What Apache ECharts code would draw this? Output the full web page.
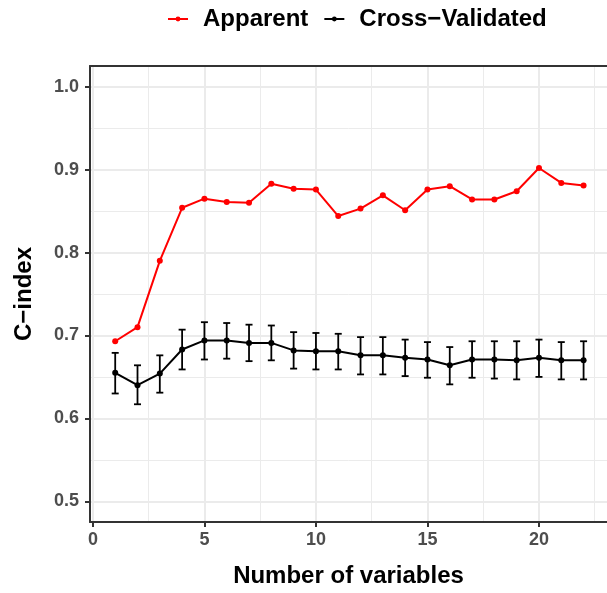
<!DOCTYPE html>
<html>
<head>
<meta charset="utf-8">
<script src="https://cdn.jsdelivr.net/npm/echarts@6/dist/echarts.min.js"></script>
<style>
  html, body { margin: 0; padding: 0; background: #fff; }
  #chart { width: 607px; height: 593px; }
</style>
</head>
<body>
<div id="chart"></div>
<script>
// number of variables in the model
var nVars = [1, 2, 3, 4, 5, 6, 7, 8, 9, 10, 11, 12, 13, 14, 15, 16, 17, 18, 19, 20, 21, 22];

// apparent C-index
var apparent = [0.693, 0.710, 0.790, 0.854, 0.865, 0.861, 0.860, 0.883, 0.877, 0.876, 0.844,
                0.853, 0.869, 0.851, 0.876, 0.880, 0.864, 0.864, 0.874, 0.902, 0.884, 0.881];

// cross-validated C-index with error bars
var cvMean  = [0.655, 0.640, 0.654, 0.683, 0.694, 0.694, 0.691, 0.691, 0.682, 0.681, 0.681,
               0.676, 0.676, 0.673, 0.671, 0.664, 0.671, 0.671, 0.670, 0.673, 0.670, 0.670];
var cvLower = [0.630, 0.617, 0.631, 0.659, 0.671, 0.672, 0.669, 0.670, 0.660, 0.659, 0.659,
               0.653, 0.653, 0.651, 0.649, 0.641, 0.649, 0.648, 0.647, 0.650, 0.647, 0.647];
var cvUpper = [0.679, 0.664, 0.676, 0.707, 0.716, 0.715, 0.713, 0.712, 0.704, 0.703, 0.702,
               0.698, 0.698, 0.695, 0.692, 0.686, 0.693, 0.693, 0.693, 0.695, 0.692, 0.693];

// tick labels and grid lines
var xTicks = [0, 5, 10, 15, 20];
var yTicks = [0.5, 0.6, 0.7, 0.8, 0.9, 1.0];
var xMinor = [2.5, 7.5, 12.5, 17.5, 22.5];
var yMinor = [0.55, 0.65, 0.75, 0.85, 0.95];

var font = 'Liberation Sans';
var gridColor = '#EBEBEB';
var axisColor = '#333333';

var myChart = echarts.init(document.getElementById('chart'));

var appData = nVars.map(function (x, i) { return [x, apparent[i]]; });
var cvData = nVars.map(function (x, i) { return [x, cvMean[i]]; });
var errData = nVars.map(function (x, i) { return [x, cvLower[i], cvUpper[i]]; });

function vLines(vals, w) {
  return vals.map(function (v) { return { xAxis: v, lineStyle: { width: w } }; });
}
function hLines(vals, w) {
  return vals.map(function (v) { return { yAxis: v, lineStyle: { width: w } }; });
}

var option = {
  animation: false,
  backgroundColor: '#fff',
  textStyle: { fontFamily: font },
  legend: {
    top: 2,
    left: 162,
    itemWidth: 20,
    itemHeight: 6,
    itemGap: 15,
    data: ['Apparent', 'Cross\u2212Validated'],
    textStyle: { fontFamily: font, fontSize: 24, fontWeight: 'bold', color: '#000', padding: [0, 0, 0, 10] }
  },
  grid: { left: 90, right: 0, top: 66, bottom: 71, containLabel: false },
  xAxis: [{
    type: 'value',
    min: -0.13,
    max: 23.05,
    zlevel: 1,
    name: 'Number of variables',
    nameLocation: 'middle',
    nameGap: 42,
    nameTextStyle: { fontFamily: font, fontSize: 24, fontWeight: 'bold', color: '#000' },
    axisLine: { show: true, onZero: false, lineStyle: { color: axisColor, width: 2 } },
    axisTick: { show: true, length: 5, customValues: xTicks, lineStyle: { color: axisColor, width: 2 } },
    axisLabel: { customValues: xTicks, margin: 9, fontFamily: font, fontSize: 18, fontWeight: 'bold', color: '#4D4D4D' },
    splitLine: { show: false }
  }, {
    type: 'value',
    position: 'top',
    min: -0.13,
    max: 23.05,
    zlevel: 1,
    axisLine: { show: true, onZero: false, lineStyle: { color: axisColor, width: 2 } },
    axisTick: { show: false },
    axisLabel: { show: false },
    splitLine: { show: false }
  }],
  yAxis: {
    type: 'value',
    min: 0.475,
    max: 1.025,
    zlevel: 1,
    name: 'C\u2212index',
    nameLocation: 'middle',
    nameGap: 54,
    nameRotate: 90,
    nameTextStyle: { fontFamily: font, fontSize: 24, fontWeight: 'bold', color: '#000' },
    axisLine: { show: true, onZero: false, lineStyle: { color: axisColor, width: 2 } },
    axisTick: { show: true, length: 5, customValues: yTicks, lineStyle: { color: axisColor, width: 2 } },
    axisLabel: {
      customValues: yTicks, margin: 11, fontFamily: font, fontSize: 18, fontWeight: 'bold', color: '#4D4D4D',
      formatter: function (v) { return v.toFixed(1); }
    },
    splitLine: { show: false }
  },
  series: [
    {
      // grid lines, on the bottom layer
      type: 'line',
      data: [],
      zlevel: 0,
      silent: true,
      markLine: {
        silent: true,
        symbol: ['none', 'none'],
        label: { show: false },
        lineStyle: { color: gridColor, type: 'solid' },
        data: vLines(xMinor, 1).concat(hLines(yMinor, 1), vLines(xTicks, 2), hLines(yTicks, 2))
      }
    },
    {
      name: 'Apparent',
      type: 'line',
      data: appData,
      zlevel: 1,
      color: '#FF0000',
      symbol: 'circle',
      symbolSize: 6,
      lineStyle: { width: 2, color: '#FF0000' },
      itemStyle: { color: '#FF0000' }
    },
    {
      name: 'Cross\u2212Validated',
      type: 'line',
      data: cvData,
      zlevel: 1,
      color: '#000',
      symbol: 'circle',
      symbolSize: 6,
      lineStyle: { width: 2, color: '#000' },
      itemStyle: { color: '#000' }
    },
    {
      type: 'custom',
      zlevel: 1,
      data: errData,
      encode: { x: 0, y: [1, 2] },
      renderItem: function (params, api) {
        var x = api.value(0);
        var lo = api.coord([x, api.value(1)]);
        var hi = api.coord([x, api.value(2)]);
        var cap = 3.5;
        var st = { stroke: '#000', lineWidth: 1.8 };
        return {
          type: 'group',
          children: [
            { type: 'line', shape: { x1: lo[0], y1: lo[1], x2: hi[0], y2: hi[1] }, style: st },
            { type: 'line', shape: { x1: lo[0] - cap, y1: lo[1], x2: lo[0] + cap, y2: lo[1] }, style: st },
            { type: 'line', shape: { x1: hi[0] - cap, y1: hi[1], x2: hi[0] + cap, y2: hi[1] }, style: st }
          ]
        };
      }
    }
  ]
};

myChart.setOption(option);
</script>
</body>
</html>
